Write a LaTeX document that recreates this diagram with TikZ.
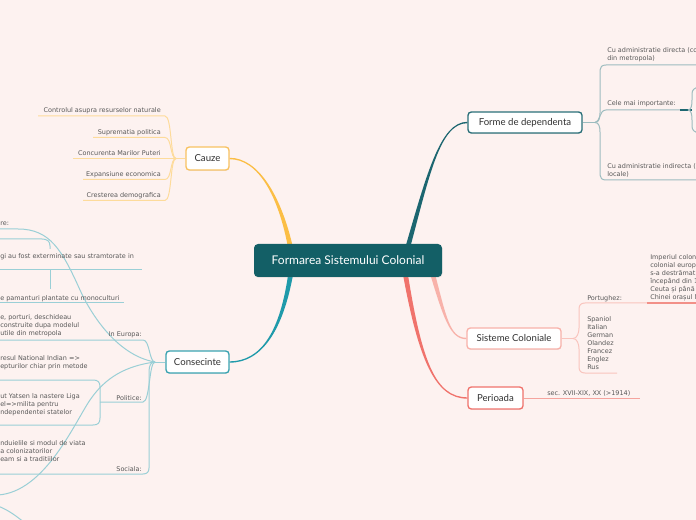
\documentclass[tikz,border=0pt]{standalone}
\usepackage{fontspec}
\setmainfont{DejaVu Sans}
\newfontfamily\hfont{Lato}
\usetikzlibrary{calc,shadows}
\definecolor{bgc}{HTML}{FDF2F0}
\definecolor{txt}{HTML}{585858}
\definecolor{dark}{HTML}{303030}
\definecolor{core}{HTML}{135F66}
\definecolor{ylw}{HTML}{FBBE45}
\definecolor{ylwb}{HTML}{F8C262}
\definecolor{ylwl}{HTML}{FDDB9B}
\definecolor{tea}{HTML}{1F9AAA}
\definecolor{teab}{HTML}{3AA3B1}
\definecolor{teal2}{HTML}{9ACFD6}
\definecolor{dte}{HTML}{1C6670}
\definecolor{dteb}{HTML}{2A6F78}
\definecolor{dtel}{HTML}{9DBCBF}
\definecolor{pnk}{HTML}{F8B2AA}
\definecolor{pnkl}{HTML}{F9C4BD}
\definecolor{pnkd}{HTML}{F29088}
\definecolor{sal}{HTML}{F0736C}
\definecolor{sall}{HTML}{F5A49E}
\pgfdeclarelayer{back}\pgfdeclarelayer{conn}\pgfsetlayers{back,conn,main}
% tapered main connector: colour, start, c1, c2, end, end offsets
\newcommand\taper[7]{\fill[#1] ($(#2)+(-2.5,0)$) .. controls ($(#3)+(-1.5,0)$) and ($(#4)+(0,#6)$) .. ($(#5)+(0,#6)$) -- ($(#5)+(0,#7)$) .. controls ($(#4)+(0,#7)$) and ($(#3)+(1.5,0)$) .. ($(#2)+(2.5,0)$) -- cycle;}
\begin{document}
\begin{tikzpicture}[x=0.75pt,y=-0.75pt,
  small/.style={font=\fontsize{4.85}{6}\selectfont, text=txt, inner sep=0pt, align=left},
  smallr/.style={small, align=right},
  branch/.style={draw=#1, line width=1pt, fill=white, rounded corners=2.5pt,
     font=\hfont\fontsize{7.2}{8}\selectfont, text=dark, inner sep=0pt,
     drop shadow={shadow xshift=0.3pt,shadow yshift=-0.6pt,opacity=0.12}},
  lnk/.style={line width=0.75pt, draw=#1}]
\useasboundingbox (0,0) rectangle (696,520);
\begin{pgfonlayer}{back}\fill[bgc] (0,0) rectangle (696,520);\end{pgfonlayer}

% ---------- main nodes
\node[fill=core, rounded corners=3pt, minimum width=141pt, minimum height=24.75pt, inner sep=0pt,
  text=white, font=\hfont\fontsize{9}{10}\selectfont,
  drop shadow={shadow xshift=0.3pt,shadow yshift=-0.6pt,opacity=0.15}] (c) at (348,260.5) {Formarea Sistemului Colonial};
\node[branch=ylwb, minimum width=32.25pt, minimum height=17.25pt] (cauze) at (207.5,158.5) {Cauze};
\node[branch=teab, minimum width=47.25pt, minimum height=16.5pt] (consec) at (197.5,362) {Consecinte};
\node[branch=dteb, minimum width=85.5pt, minimum height=15.75pt] (forme) at (525,122.5) {Forme de dependenta};
\node[branch=pnk, minimum width=70.5pt, minimum height=15.75pt] (sist) at (514,338.5) {Sisteme Coloniale};
\node[branch=sal, minimum width=41.25pt, minimum height=16.5pt] (per) at (495.5,398) {Perioada};

% ---------- named points
\coordinate (s1) at (291,250);
\coordinate (s2) at (291,272);
\coordinate (s3) at (407,250);
\coordinate (s4) at (432,272);
\coordinate (s5) at (405,272);
\coordinate (cj) at (176,158.5);
\coordinate (fj) at (595,122.5);
\coordinate (sj) at (573,338.5);
\coordinate (kj) at (155,362);
\coordinate (pj) at (100,402);

% ---------- texts: Cauze
\node[smallr, anchor=mid east] (k1) at (161,109) {Controlul asupra resurselor naturale};
\node[smallr, anchor=mid east] (k2) at (161,130.5) {Suprematia politica};
\node[smallr, anchor=mid east] (k3) at (161,151.5) {Concurenta Marilor Puteri};
\node[smallr, anchor=mid east] (k4) at (161,172.5) {Expansiune economica};
\node[smallr, anchor=mid east] (k5) at (161,193.5) {Cresterea demografica};

% ---------- texts: Forme de dependenta
\node[small, anchor=north west] (f1) at (607,47) {Cu administratie directa (co\\din metropola)};
\node[small, anchor=mid west] (f2) at (607,102) {Cele mai importante:};
\node[small, anchor=north west] (f3) at (607,163) {Cu administratie indirecta (\\locale)};

% ---------- texts: Sisteme Coloniale
\node[small, anchor=mid west] (p1) at (587,297) {Portughez:};
\node[small, anchor=north west] (p2) at (650,254) {Imperiul colon\\colonial europ\\s-a destrămat\\începând din 1\\Ceuta și până\\Chinei orașul M};
\node[small, anchor=north west] (p3) at (587,316) {Spaniol\\Italian\\German\\Olandez\\Francez\\Englez\\Rus};

% ---------- texts: Perioada
\node[small, anchor=mid west] (q1) at (547,391.5) {sec. XVII-XIX, XX (>1914)};

% ---------- texts: Consecinte
\node[small, anchor=mid west] (e0) at (0,222) {re:};
\node[small, anchor=mid west] (e1) at (0,255) {gi au fost exterminate sau stramtorate in};
\node[small, anchor=mid west] (e2) at (0,297) {e pamanturi plantate cu monoculturi};
\node[small, anchor=north west] (e3) at (0,314) {e, porturi, deschideau\\ construite dupa modelul\\utile din metropola};
\node[smallr, anchor=mid east] (e4) at (142,333) {In Europa:};
\node[small, anchor=north west] (e5) at (0,355) {resul National Indian =>\\epturilor chiar prin metode};
\node[smallr, anchor=mid east] (e6) at (142,396.5) {Politice:};
\node[small, anchor=north west] (e7) at (0,393) {ut Yatsen la nastere Liga\\el=>milita pentru\\ndependentei statelor};
\node[small, anchor=north west] (e8) at (0,440) {nduielile si modul de viata\\a colonizatorilor\\eam si a traditiilor};
\node[smallr, anchor=mid east] (e9) at (142,468) {Sociala:};

% ---------- connectors
\begin{pgfonlayer}{conn}
\taper{ylw}{s1}{280,195}{258,158.5}{cauze.east}{0.7}{-0.7}
\taper{tea}{s2}{282,330}{262,362}{consec.east}{-0.7}{0.7}
\taper{dte}{s3}{428,175}{440,122.5}{forme.west}{-0.7}{0.7}
\taper{pnk}{s4}{445,318}{450,338.5}{sist.west}{0.7}{-0.7}
\taper{sal}{s5}{420,360}{435,398}{per.west}{0.7}{-0.7}

% Cauze
\draw[lnk=ylwl] (cauze.west) -- (cj);
\draw[lnk=ylwl] (cj) .. controls (170,158.5) and (172,116) .. (165,116) -- (38,116);
\draw[lnk=ylwl] (cj) .. controls (170,158.5) and (172,137.5) .. (165,137.5) -- (93,137.5);
\draw[lnk=ylwl] (cj) -- (73,158.5);
\draw[lnk=ylwl] (cj) .. controls (170,158.5) and (172,179.5) .. (165,179.5) -- (83,179.5);
\draw[lnk=ylwl] (cj) .. controls (170,158.5) and (172,200.5) .. (165,200.5) -- (83,200.5);

% Forme de dependenta
\draw[lnk=dtel] (forme.east) -- (fj);
\draw[lnk=dtel] (fj) .. controls (599,122.5) and (600,118) .. (600,113) -- (600,70) .. controls (600,67) and (602,65) .. (606,65) -- (700,65);
\draw[lnk=dtel] (fj) .. controls (600,122.5) and (599,110) .. (606,110) -- (680,110);
\draw[line width=1.1pt, dte] (680,110) -- (692,110);
\draw[lnk=dtel] (fj) .. controls (599,122.5) and (600,127) .. (600,132) -- (600,175) .. controls (600,178) and (602,180) .. (606,180) -- (700,180);
\draw[lnk=dtel] (688,110) .. controls (691,110) and (692,106) .. (692,100) -- (692,94) .. controls (692,90) and (694,88) .. (699,87);
\draw[lnk=dtel] (688,110) .. controls (691,110) and (692,114) .. (692,120) -- (692,126) .. controls (692,130) and (694,132) .. (699,133);

% Sisteme Coloniale
\draw[lnk=pnkl] (sist.east) -- (sj);
\draw[lnk=pnkl] (sj) .. controls (577,338.5) and (579,333) .. (579,328) -- (579,309) .. controls (579,305) and (581,303) .. (585,303) -- (647,303);
\draw[line width=1.1pt, pnkd] (647,303) -- (700,303);
\draw[lnk=pnkl] (sj) .. controls (577,338.5) and (579,344) .. (579,349) -- (579,367) .. controls (579,371) and (581,373) .. (585,373) -- (617,373);

% Perioada
\draw[lnk=sall] (per.east) -- (640,398);

% Consecinte
\draw[lnk=teal2] (consec.west) -- (kj);
\draw[lnk=teal2] (kj) .. controls (149,362) and (150,340) .. (143,340) -- (-2,340);
\draw[lnk=teal2] (kj) .. controls (149,362) and (150,402) .. (143,402) -- (pj);
\draw[lnk=teal2] (kj) .. controls (151,362) and (149,365) .. (149,372) -- (149,468) .. controls (149,472) and (147,474) .. (143,474) -- (-2,474);
\draw[lnk=teal2] (kj) .. controls (115,355) and (89,310) .. (80,290) .. controls (62,250) and (50,229) .. (18,229) -- (-2,229);
\draw[lnk=teal2] (kj) .. controls (125,366) and (105,378) .. (90,400) .. controls (75,422) and (45,492) .. (-2,495);
\draw[lnk=teal2] (-2,506) .. controls (8,510) and (15,515) .. (25,523);
% In Europa sub-items
\draw[lnk=teal2] (-2,239) -- (42,239) .. controls (47,239) and (50,241) .. (50,246) -- (50,249);
\draw[lnk=teal2] (-2,270) -- (142,270);
\draw[lnk=teal2] (50,270) -- (50,289);
\draw[lnk=teal2] (-2,303) -- (124,303);
% Politice sub-items
\draw[lnk=teal2] (pj) -- (100,387) .. controls (100,382) and (98,380) .. (93,380) -- (-2,380);
\draw[lnk=teal2] (pj) -- (100,418) .. controls (100,423) and (98,425) .. (93,425) -- (-2,425);
\end{pgfonlayer}
\end{tikzpicture}
\end{document}
